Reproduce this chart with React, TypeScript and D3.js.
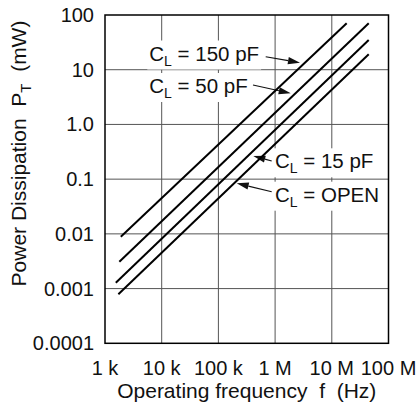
import { useEffect, useRef } from "react";
import * as d3 from "d3";

// axis ticks
const xTicks = [1e3, 1e4, 1e5, 1e6, 1e7, 1e8];
const xTickLabels = ["1 k", "10 k", "100 k", "1 M", "10 M", "100 M"];
const yTicks = [100, 10, 1, 0.1, 0.01, 0.001, 0.0001];
const yTickLabels = ["100", "10", "1.0", "0.1", "0.01", "0.001", "0.0001"];

// one straight line per load capacitance (log-log)
const loadLabels = ["150 pF", "50 pF", "15 pF", "OPEN"];
const startFreq = [1.9e3, 1.79e3, 1.55e3, 1.72e3];
const startPower = [0.00885, 0.00309, 0.00128, 0.00079];
const endFreq = [18.3e6, 44.8e6, 44.8e6, 44.8e6];
const endPower = [70.5, 70.5, 34.9, 19.1];

// label placement (pixels): text start, baseline, arrow tail, arrow tip
const labelLayout = [
  { x: 149.3, y: 60.5, tail: [265.7, 56.7], tip: [300, 62.7] },
  { x: 149.3, y: 93, tail: [253, 85], tip: [290.7, 93.3] },
  { x: 275, y: 168.3, tail: [271.7, 161], tip: [253.3, 156] },
  { x: 275, y: 201.7, tail: [271.7, 191.7], tip: [236.7, 183.3] },
];

const W = 419;
const H = 411;
const margin = { top: 15, right: 30.5, bottom: 67.7, left: 105 };
const FONT = "'Liberation Sans', Arial, Helvetica, sans-serif";

export default function App() {
  const svgRef = useRef<SVGSVGElement>(null);

  useEffect(() => {
    if (!svgRef.current) return;
    const svg = d3.select(svgRef.current);
    svg.selectAll("*").remove();

    const x = d3
      .scaleLog()
      .domain([1e3, 1e8])
      .range([margin.left, W - margin.right]);
    const y = d3
      .scaleLog()
      .domain([0.0001, 100])
      .range([H - margin.bottom, margin.top]);

    const g = svg.append("g").attr("font-family", FONT);

    // grid
    g.append("g")
      .selectAll("line")
      .data(xTicks.slice(1, -1))
      .join("line")
      .attr("x1", (d) => x(d))
      .attr("x2", (d) => x(d))
      .attr("y1", margin.top)
      .attr("y2", H - margin.bottom)
      .attr("stroke", "#555")
      .attr("stroke-width", 1);
    g.append("g")
      .selectAll("line")
      .data(yTicks.slice(1, -1))
      .join("line")
      .attr("x1", margin.left)
      .attr("x2", W - margin.right)
      .attr("y1", (d) => y(d))
      .attr("y2", (d) => y(d))
      .attr("stroke", "#555")
      .attr("stroke-width", 1);

    // tick labels
    g.append("g")
      .selectAll("text")
      .data(xTicks)
      .join("text")
      .attr("x", (d) => x(d))
      .attr("y", H - margin.bottom + 32)
      .attr("text-anchor", "middle")
      .attr("font-size", 20)
      .attr("fill", "#111")
      .text((_, i) => xTickLabels[i]);
    g.append("g")
      .selectAll("text")
      .data(yTicks)
      .join("text")
      .attr("x", margin.left - 11)
      .attr("y", (d) => y(d) + 7)
      .attr("text-anchor", "end")
      .attr("font-size", 20)
      .attr("fill", "#111")
      .text((_, i) => yTickLabels[i]);

    // axis titles
    g.append("text")
      .attr("x", (margin.left + W - margin.right) / 2)
      .attr("y", 398)
      .attr("text-anchor", "middle")
      .attr("font-size", 21)
      .attr("fill", "#111")
      .attr("xml:space", "preserve")
      .text("Operating frequency  f  (Hz)");

    const yt = g
      .append("text")
      .attr("transform", "translate(26,153.5) rotate(-90)")
      .attr("text-anchor", "middle")
      .attr("font-size", 21)
      .attr("fill", "#111")
      .attr("xml:space", "preserve");
    yt.append("tspan").text("Power Dissipation  P");
    yt.append("tspan").attr("font-size", 15).attr("dy", 5).text("T");
    yt.append("tspan").attr("dy", -5).text("  (mW)");

    // labels with white background + arrows
    const ann = g.append("g");
    labelLayout.forEach((p, i) => {
      const bg = ann.append("rect").attr("fill", "white");
      const t = ann
        .append("text")
        .attr("x", p.x)
        .attr("y", p.y)
        .attr("font-size", 20.5)
        .attr("fill", "#111");
      t.append("tspan").text("C");
      t.append("tspan").attr("font-size", 14).attr("dy", 5).text("L");
      t.append("tspan").attr("dy", -5).text(" = " + loadLabels[i]);
      const bb = (t.node() as SVGTextElement).getBBox();
      bg.attr("x", bb.x - 2)
        .attr("y", bb.y - 1)
        .attr("width", bb.width + 4)
        .attr("height", bb.height + 2);

      const [tx, ty] = p.tail;
      const [hx, hy] = p.tip;
      const ang = Math.atan2(hy - ty, hx - tx);
      const len = 12;
      const half = 3.6;
      const bx = hx - len * Math.cos(ang);
      const by = hy - len * Math.sin(ang);
      ann
        .append("line")
        .attr("x1", tx)
        .attr("y1", ty)
        .attr("x2", bx)
        .attr("y2", by)
        .attr("stroke", "#111")
        .attr("stroke-width", 1.1);
      ann
        .append("polygon")
        .attr(
          "points",
          [
            [hx, hy],
            [bx + half * Math.sin(ang), by - half * Math.cos(ang)],
            [bx - half * Math.sin(ang), by + half * Math.cos(ang)],
          ]
            .map((q) => q.join(","))
            .join(" ")
        )
        .attr("fill", "#111");
    });

    // data lines
    const line = d3
      .line<[number, number]>()
      .x((d) => x(d[0]))
      .y((d) => y(d[1]));
    g.append("g")
      .selectAll("path")
      .data(loadLabels.map((_, i) => [
        [startFreq[i], startPower[i]],
        [endFreq[i], endPower[i]],
      ] as [number, number][]))
      .join("path")
      .attr("d", (d) => line(d))
      .attr("fill", "none")
      .attr("stroke", "#000")
      .attr("stroke-width", 2);

    // frame
    g.append("rect")
      .attr("x", margin.left)
      .attr("y", margin.top)
      .attr("width", W - margin.left - margin.right)
      .attr("height", H - margin.top - margin.bottom)
      .attr("fill", "none")
      .attr("stroke", "#000")
      .attr("stroke-width", 1.5);
  }, []);

  return (
    <svg
      ref={svgRef}
      width={W}
      height={H}
      style={{ position: "absolute", left: 0, top: 0, background: "white" }}
    />
  );
}
